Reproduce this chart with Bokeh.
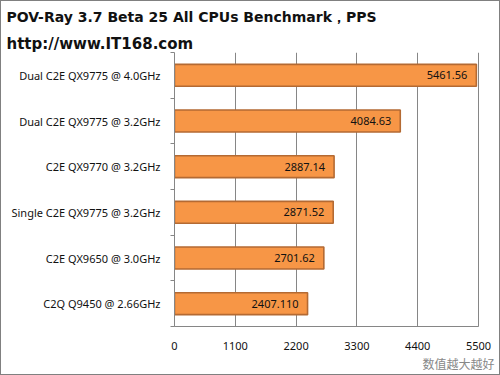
from bokeh.plotting import figure
from bokeh.layouts import column
from bokeh.models import Title, FixedTicker, ColumnDataSource, Range1d
from bokeh.core.properties import value
from bokeh.embed import file_html
from bokeh.resources import INLINE

categories = ["Dual C2E QX9775 @ 4.0GHz", "Dual C2E QX9775 @ 3.2GHz", "C2E QX9770 @ 3.2GHz",
              "Single C2E QX9775 @ 3.2GHz", "C2E QX9650 @ 3.0GHz", "C2Q Q9450 @ 2.66GHz"]
scores = [5461.56, 4084.63, 2887.14, 2871.52, 2701.62, 2407.110]
score_labels = ["5461.56", "4084.63", "2887.14", "2871.52", "2701.62", "2407.110"]
x_ticks = [0, 1100, 2200, 3300, 4400, 5500]
title_text = "POV-Ray 3.7 Beta 25 All CPUs Benchmark，PPS"
subtitle_text = "http://www.IT168.com"
note_text = "数值越大越好"

n = len(categories)
ypos = [n - i - 0.5 for i in range(n)]
src = ColumnDataSource(dict(y=ypos, v=scores, lab=score_labels))

W = 498
TH = 51
MH = 322

# ---- heading strip ----
t = figure(width=W, height=TH, output_backend="svg", toolbar_location=None,
           x_range=Range1d(0, W), y_range=Range1d(0, TH),
           min_border=0, min_border_left=0, min_border_right=0,
           min_border_top=0, min_border_bottom=0)
t.frame_align = False
t.axis.visible = False
t.grid.visible = False
t.outline_line_color = None
t.background_fill_color = "white"
t.border_fill_color = "white"
t.text(x=[5], y=[TH - 15], text=[title_text], text_baseline="middle",
       text_font=value("DejaVu Sans"), text_font_size="14px", text_font_style="bold",
       text_color="#111111")
t.text(x=[5], y=[TH - 42], text=[subtitle_text], text_baseline="middle",
       text_font=value("DejaVu Sans"), text_font_size="15px", text_font_style="bold",
       text_color="#111111")

# ---- main chart ----
FL = 173            # frame left within this figure (page x 174)
x_end = 5500 * (W - FL) / (477 - FL)  # frame extends to the right edge; 5500 lands at page x 478
p = figure(width=W, height=MH, output_backend="svg", toolbar_location=None,
           x_range=Range1d(0, x_end), y_range=Range1d(0, n),
           min_border_left=FL, min_border_right=0, min_border_top=0, min_border_bottom=MH - 274)
p.frame_align = False
p.outline_line_color = None
p.background_fill_color = "white"
p.border_fill_color = "white"

p.hbar(y="y", right="v", left=0, height=0.48, source=src,
       fill_color="#F79646", line_color="#B46A33", line_width=1.6)
p.text(x="v", y="y", text="lab", source=src, x_offset=-9, text_align="right",
       text_baseline="middle", text_font=value("Noto Sans"), text_font_size="11px", text_color="#111111")

p.xgrid.ticker = FixedTicker(ticks=x_ticks)
p.xgrid.grid_line_color = "#868686"
p.ygrid.grid_line_color = None

xa = p.xaxis[0]
xa.ticker = FixedTicker(ticks=x_ticks)
xa.bounds = (0, 5500)
xa.axis_line_color = "#868686"
xa.major_tick_line_color = "#868686"
xa.major_tick_in = 5
xa.major_tick_out = 0
xa.minor_tick_line_color = None
xa.major_label_text_font = "Noto Sans"
xa.major_label_text_font_size = "11px"
xa.major_label_text_color = "#111111"
xa.major_label_standoff = 15

ya = p.yaxis[0]
ya.ticker = FixedTicker(ticks=ypos, minor_ticks=list(range(n + 1)))
ya.major_label_overrides = {y: c for y, c in zip(ypos, categories)}
ya.axis_line_color = "#868686"
ya.major_tick_line_color = None
ya.minor_tick_line_color = "#868686"
ya.minor_tick_out = 4
ya.minor_tick_in = 0
ya.major_label_text_font = "Noto Sans"
ya.major_label_text_font_size = "11px"
ya.major_label_text_color = "#111111"
ya.major_label_standoff = 8

p.add_layout(Title(text=note_text, align="right", text_font="Noto Sans CJK SC",
                   text_font_size="12px", text_font_style="normal", text_color="#888888",
                   offset=5, standoff=0), "below")

layout = column(t, p, spacing=0, styles={"border": "1px solid #808080", "background": "white"})

open("out.html", "w").write(file_html(layout, INLINE))
